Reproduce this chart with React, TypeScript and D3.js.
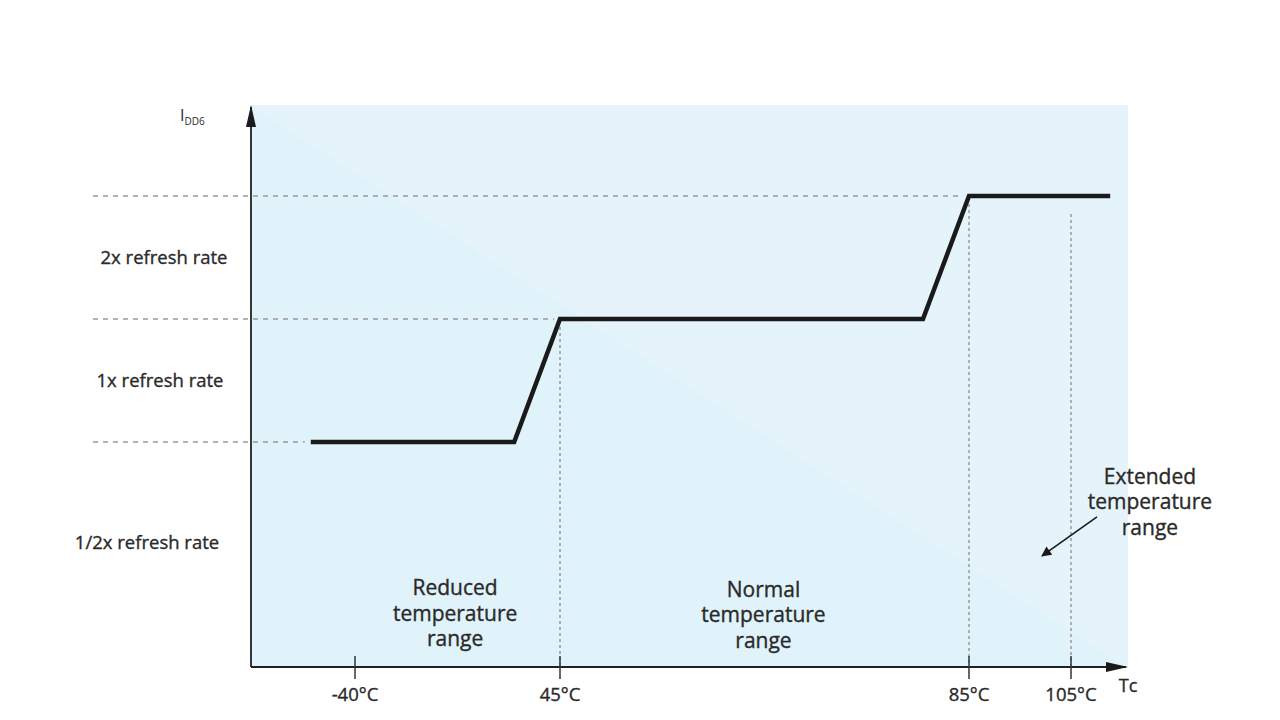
import React from "react";
import * as d3 from "d3";

// Schematic temperature axis ticks (°C)
const tickTemps = [-40, 45, 85, 105];
const tickLabels = ["-40°C", "45°C", "85°C", "105°C"];
// Refresh-rate levels (index on y axis): 1 = 1/2x, 2 = 1x, 3 = 2x
const levelLabels = ["1/2x refresh rate", "1x refresh rate", "2x refresh rate"];
const levelLabelPos = [0.18, 1.5, 2.5];
const guideLevels = [1, 2, 3];
// IDD6 curve: temperature (°C) and level
const curveTemp = [-57, 26, 45, 80.5, 85, 119];
const curveLevel = [1, 1, 2, 2, 3, 3];
// Region labels
const regionLabels = [
  { lines: ["Reduced", "temperature", "range"], temp: 1.5, level: -0.245 },
  { lines: ["Normal", "temperature", "range"], temp: 64.9, level: -0.26 },
  { lines: ["Extended", "temperature", "range"], temp: 133.2, level: 0.66 },
];

export default function App() {
  const W = 1280, H = 720;
  const x = d3.scaleLinear().domain([-80, -40, 45, 85, 105, 125]).range([251, 355, 560, 969, 1071, 1127]);
  const y = d3.scaleLinear().domain([0, 3]).range([565, 196]);
  const x0 = 251, x1 = 1128, yTop = 105, yBot = 667;
  const font = "'Open Sans', 'Noto Sans', sans-serif";
  const txt = "#2a2a2a";
  const tStroke = { stroke: txt, strokeWidth: 0.35 };
  const levelLabelX = [147, 160, 164];

  const pts: [number, number][] = curveTemp.map((t, i) => [x(t), y(curveLevel[i])]);
  const line = d3.line()(pts) as string;

  const guideEnd = guideLevels.map((lv) => {
    const idx = curveLevel.indexOf(lv);
    return x(curveTemp[idx]) - 6;
  });

  const ext = regionLabels[2];
  const arrowStart: [number, number] = [1097, y(ext.level) + 33];
  const arrowEnd: [number, number] = [1042, y(ext.level) + 72];

  return (
    <svg width={W} height={H} style={{ display: "block", position: "absolute", left: 0, top: 0, background: "#fff" }}>
      <defs>
        <marker id="ah" viewBox="0 0 10 10" refX="9" refY="5" markerWidth="14" markerHeight="10" markerUnits="userSpaceOnUse" orient="auto">
          <path d="M0,0 L10,5 L0,10 z" fill="#1a1a1a" />
        </marker>
      </defs>
      {/* background */}
      <polygon points={`${x0},${yTop} ${x1},${yTop} ${x1},${yBot}`} fill="#e5f4fb" />
      <polygon points={`${x0},${yTop} ${x1},${yBot} ${x0},${yBot}`} fill="#e0f2fa" />

      {/* horizontal dashed guides */}
      {guideLevels.map((lv, i) => (
        <line key={"g" + i} x1={93} x2={guideEnd[i]} y1={y(lv)} y2={y(lv)} stroke="#999" strokeWidth={1.7} strokeDasharray="5,5" />
      ))}
      {/* vertical dotted guides */}
      <line x1={x(45)} x2={x(45)} y1={y(2) + 8} y2={yBot} stroke="#999" strokeWidth={1.5} strokeDasharray="3,3" />
      <line x1={x(85)} x2={x(85)} y1={y(3) + 8} y2={yBot} stroke="#999" strokeWidth={1.5} strokeDasharray="3,3" />
      <line x1={x(105)} x2={x(105)} y1={y(3) + 18} y2={yBot} stroke="#999" strokeWidth={1.5} strokeDasharray="3,3" />

      {/* axes */}
      <line x1={x0} x2={x0} y1={yBot} y2={yTop + 2} stroke="#222" strokeWidth={1.8} />
      <path d={`M${x0 - 5},${yTop + 22} L${x0},${yTop} L${x0 + 5},${yTop + 22} Z`} fill="#1a1a1a" />
      <line x1={x0} x2={x1 - 2} y1={yBot} y2={yBot} stroke="#222" strokeWidth={1.8} />
      <path d={`M${x1 - 22},${yBot - 5} L${x1},${yBot} L${x1 - 22},${yBot + 5} Z`} fill="#1a1a1a" />

      {/* ticks */}
      {tickTemps.map((t, i) => (
        <g key={"t" + i}>
          <line x1={x(t)} x2={x(t)} y1={yBot - 11} y2={yBot + 12} stroke="#333" strokeWidth={1.5} />
          <text x={x(t)} y={701} textAnchor="middle" fontFamily={font} fontSize={18.5} fill={txt} {...tStroke}>{tickLabels[i]}</text>
        </g>
      ))}
      <text x={1128} y={692} textAnchor="middle" fontFamily={font} fontSize={18} fill={txt} {...tStroke}>Tc</text>

      {/* y label */}
      <text x={180} y={121} fontFamily={font} fontSize={16} fill={txt}>I<tspan fontSize={10} dy={4}>DD6</tspan></text>

      {/* level labels */}
      {levelLabels.map((s, i) => (
        <text key={"l" + i} x={levelLabelX[i]} y={y(levelLabelPos[i]) + 6} textAnchor="middle" fontFamily={font} fontSize={18.5} fill={txt} {...tStroke}>{s}</text>
      ))}

      {/* curve */}
      <path d={line} fill="none" stroke="#1a1a1a" strokeWidth={4.5} strokeLinejoin="miter" />

      {/* region labels */}
      {regionLabels.map((r, i) => (
        <text key={"r" + i} x={x(r.temp)} y={y(r.level)} textAnchor="middle" fontFamily={font} fontSize={21} fill={txt} {...tStroke}>
          {r.lines.map((ln, j) => (
            <tspan key={j} x={x(r.temp)} dy={j === 0 ? 0 : 25.5}>{ln}</tspan>
          ))}
        </text>
      ))}
      <line x1={arrowStart[0]} y1={arrowStart[1]} x2={arrowEnd[0]} y2={arrowEnd[1]} stroke="#1a1a1a" strokeWidth={1.6} markerEnd="url(#ah)" />
    </svg>
  );
}
